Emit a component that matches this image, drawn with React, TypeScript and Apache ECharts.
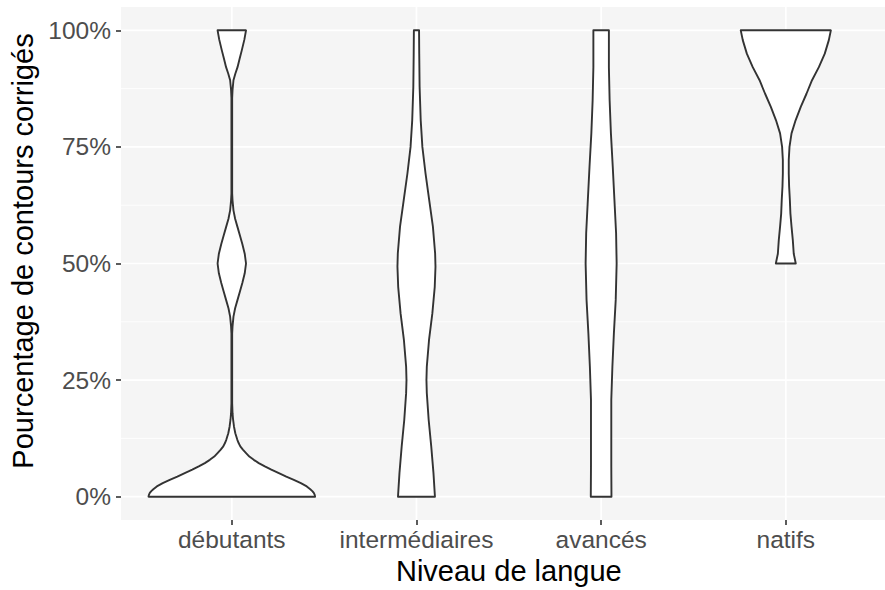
import React, { useEffect, useRef } from "react";
import * as echarts from "echarts";

// ---- Data ----
const categories = ["débutants", "intermédiaires", "avancés", "natifs"];
const categoryPositions = [1, 2, 3, 4];
const yTickValues = [0, 25, 50, 75, 100];
const yMinorValues = [12.5, 37.5, 62.5, 87.5];

// Violin profiles: y (%) and half-width (in category units)
const debutantsY = [0, 0.4, 0.8, 1.2, 1.6, 2.2, 2.9, 3.6, 4.3, 5.1, 5.8, 6.5, 7.2, 7.9, 8.6, 9.4, 10.1, 10.8, 11.5, 12.2, 13.6, 15, 16.5, 17.9, 20, 35, 36.5, 38.6, 40.4, 42.2, 44, 45.8, 47.9, 50, 52.1, 54.2, 56, 57.8, 59.6, 61.4, 63.5, 65, 85.5, 87.2, 89.3, 90.7, 92.1, 94, 95.7, 98, 100];
const debutantsHalfWidth = [0.451, 0.449, 0.444, 0.436, 0.425, 0.406, 0.374, 0.336, 0.295, 0.252, 0.214, 0.179, 0.146, 0.119, 0.095, 0.076, 0.06, 0.046, 0.037, 0.03, 0.019, 0.012, 0.007, 0.004, 0.002, 0.002, 0.004, 0.009, 0.018, 0.031, 0.044, 0.057, 0.07, 0.077, 0.07, 0.057, 0.044, 0.031, 0.018, 0.009, 0.004, 0.002, 0.002, 0.004, 0.009, 0.019, 0.031, 0.043, 0.054, 0.068, 0.077];

const intermediairesY = [0, 5.1, 10.8, 16.5, 22.2, 25, 27.9, 33.6, 39.3, 45, 49.3, 52.2, 57.9, 63.6, 69.3, 75, 80.7, 87.9, 95, 100];
const intermediairesHalfWidth = [0.1, 0.092, 0.08, 0.066, 0.056, 0.054, 0.056, 0.068, 0.086, 0.099, 0.103, 0.101, 0.089, 0.069, 0.049, 0.032, 0.023, 0.017, 0.015, 0.014];

const avancesY = [0, 6.5, 13.6, 20.8, 27.9, 35, 42.2, 50, 56.5, 63.6, 70.7, 77.9, 85, 92.1, 100];
const avancesHalfWidth = [0.056, 0.055, 0.055, 0.055, 0.061, 0.069, 0.079, 0.084, 0.081, 0.072, 0.063, 0.053, 0.046, 0.042, 0.042];

const natifsY = [50, 52.1, 55, 57.9, 60.7, 63.6, 66.5, 69.3, 72.2, 75, 77.9, 80.7, 83.6, 86.4, 89.3, 92.1, 95, 97.9, 100];
const natifsHalfWidth = [0.054, 0.043, 0.038, 0.031, 0.025, 0.022, 0.018, 0.016, 0.016, 0.02, 0.031, 0.053, 0.081, 0.112, 0.142, 0.179, 0.211, 0.233, 0.244];

const profiles = [
  { y: debutantsY, w: debutantsHalfWidth },
  { y: intermediairesY, w: intermediairesHalfWidth },
  { y: avancesY, w: avancesHalfWidth },
  { y: natifsY, w: natifsHalfWidth },
];

const xTitle = "Niveau de langue";
const yTitle = "Pourcentage de contours corrigés";

const X_MIN = 0.4;
const X_MAX = 4.6;
const Y_MIN = -5;
const Y_MAX = 105;

export default function App() {
  const ref = useRef<HTMLDivElement>(null);

  useEffect(() => {
    if (!ref.current) return;
    const chart = echarts.init(ref.current, undefined, { renderer: "svg" });
    const font = "Liberation Sans, Arial, Helvetica, sans-serif";

    const option: any = {
      animation: false,
      grid: {
        left: 121,
        top: 7,
        width: 775.6,
        height: 513,
        show: true,
        backgroundColor: "#F5F5F5",
        borderWidth: 0,
        containLabel: false,
        outerBoundsMode: "none",
      },
      graphic: [
        {
          type: "text",
          x: 23,
          y: 251,
          rotation: Math.PI / 2,
          style: {
            text: yTitle,
            fill: "#000000",
            fontSize: 29,
            fontFamily: font,
            align: "center",
            verticalAlign: "middle",
          },
        },
      ],
      xAxis: {
        type: "value",
        min: X_MIN,
        max: X_MAX,
        name: xTitle,
        nameLocation: "middle",
        nameGap: 35,
        nameTextStyle: { color: "#000", fontSize: 29, fontFamily: font },
        axisLine: { show: false, onZero: false },
        splitLine: { show: false },
        axisTick: {
          show: true,
          customValues: categoryPositions,
          length: 5,
          lineStyle: { color: "#333333", width: 1.6 },
        },
        axisLabel: {
          customValues: categoryPositions,
          formatter: (v: number) => categories[Math.round(v) - 1] ?? "",
          color: "#4D4D4D",
          fontSize: 24.5,
          fontFamily: font,
          margin: 7,
        },
      },
      yAxis: {
        type: "value",
        min: Y_MIN,
        max: Y_MAX,
        axisLine: { show: false, onZero: false },
        splitLine: { show: false },
        axisTick: {
          show: true,
          customValues: yTickValues,
          length: 5,
          lineStyle: { color: "#333333", width: 1.6 },
        },
        axisLabel: {
          customValues: yTickValues,
          formatter: (v: number) => `${v}%`,
          color: "#4D4D4D",
          fontSize: 24.5,
          fontFamily: font,
          margin: 10,
        },
      },
      series: [
        {
          type: "custom",
          silent: true,
          z: 1,
          clip: false,
          data: [
            ...yMinorValues.map((v) => [v, 0]),
            ...yTickValues.map((v) => [v, 1]),
          ],
          encode: { x: -1, y: 0 },
          renderItem: (params: any, api: any) => {
            const v = api.value(0);
            const major = api.value(1) === 1;
            const a = api.coord([X_MIN, v]);
            const b = api.coord([X_MAX, v]);
            return {
              type: "line",
              shape: { x1: a[0], y1: a[1], x2: b[0], y2: b[1] },
              style: { stroke: "#FFFFFF", lineWidth: major ? 1.7 : 0.85 },
            };
          },
        },
        {
          type: "custom",
          silent: true,
          z: 1,
          clip: false,
          data: categoryPositions.map((p) => [p]),
          encode: { x: 0, y: -1 },
          renderItem: (params: any, api: any) => {
            const v = api.value(0);
            const a = api.coord([v, Y_MIN]);
            const b = api.coord([v, Y_MAX]);
            return {
              type: "line",
              shape: { x1: a[0], y1: a[1], x2: b[0], y2: b[1] },
              style: { stroke: "#FFFFFF", lineWidth: 1.7 },
            };
          },
        },
        {
          type: "custom",
          z: 5,
          clip: false,
          data: categoryPositions.map((p) => [p]),
          encode: { x: 0, y: -1 },
          renderItem: (params: any, api: any) => {
            const idx = params.dataIndex;
            const center = api.value(0);
            const p = profiles[idx];
            const right = p.y.map((y, i) => api.coord([center + p.w[i], y]));
            const left = p.y.map((y, i) => api.coord([center - p.w[i], y])).reverse();
            return {
              type: "polygon",
              shape: { points: right.concat(left) },
              style: { fill: "#FFFFFF", stroke: "#333333", lineWidth: 1.9, lineJoin: "round" },
            };
          },
        },
      ],
    };

    chart.setOption(option);
    return () => chart.dispose();
  }, []);

  return (
    <div
      ref={ref}
      style={{ position: "fixed", left: 0, top: 0, width: 885, height: 590, background: "#FFFFFF", overflow: "hidden" }}
    />
  );
}
